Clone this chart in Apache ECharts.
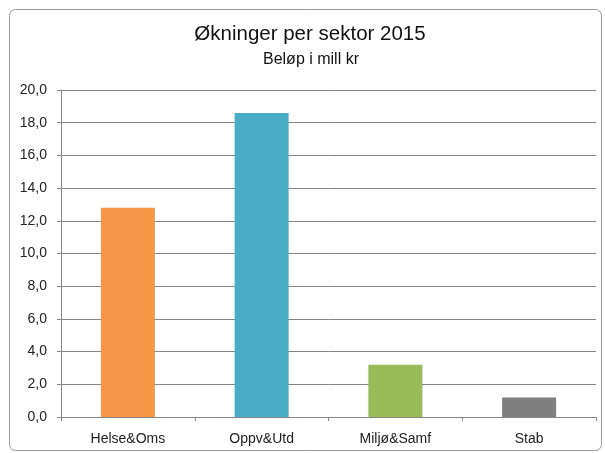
<!DOCTYPE html>
<html><head><meta charset="utf-8">
<script src="https://cdn.jsdelivr.net/npm/echarts@6/dist/echarts.min.js"></script>
<style>html,body{margin:0;padding:0;background:#fff}#c{width:605px;height:453px}</style>
</head><body><div id="c"></div>
<script>
const categories = ['Helse&Oms', 'Oppv&Utd', 'Miljø&Samf', 'Stab'];
const values = [12.8, 18.6, 3.2, 1.2];
const barColors = ['#F79646', '#4BACC6', '#9BBB59', '#7F7F7F'];
const titleText = 'Økninger per sektor 2015';
const subtitleText = 'Beløp i mill kr';

const chart = echarts.init(document.getElementById('c'), null, {renderer: 'canvas'});
const font = 'Liberation Sans, Arial, sans-serif';
chart.setOption({
  animation: false,
  backgroundColor: '#fff',
  graphic: [{
    type: 'rect', left: 7, top: 7, shape: {width: 592, height: 441, r: 6},
    style: {fill: 'none', stroke: '#9a9a9a', lineWidth: 1}, z: -1
  }],
  title: [{
    text: titleText, left: 310, top: 24, textAlign: 'center', padding: 0,
    textStyle: {fontFamily: font, fontSize: 20.5, fontWeight: 'normal', color: '#111'}
  }, {
    text: subtitleText, left: 311, top: 52, textAlign: 'center', padding: 0,
    textStyle: {fontFamily: font, fontSize: 16, fontWeight: 'normal', color: '#111'}
  }],
  grid: {left: 61, right: 9, top: 90, bottom: 36, containLabel: false},
  xAxis: {
    type: 'category', data: categories,
    axisLine: {lineStyle: {color: '#868686'}},
    axisTick: {show: true, length: 4, lineStyle: {color: '#868686'}},
    axisLabel: {fontFamily: font, fontSize: 14, color: '#222', margin: 15}
  },
  yAxis: {
    type: 'value', min: 0, max: 20, interval: 2,
    axisLine: {show: true, lineStyle: {color: '#868686'}},
    axisTick: {show: true, length: 4, lineStyle: {color: '#868686'}},
    splitLine: {lineStyle: {color: '#868686'}},
    axisLabel: {fontFamily: font, fontSize: 14, color: '#222', margin: 14,
      formatter: v => v.toFixed(1).replace('.', ',')}
  },
  series: [{
    type: 'bar', barWidth: 54,
    data: values.map((v, i) => ({value: v, itemStyle: {color: barColors[i]}}))
  }]
});
</script></body></html>
